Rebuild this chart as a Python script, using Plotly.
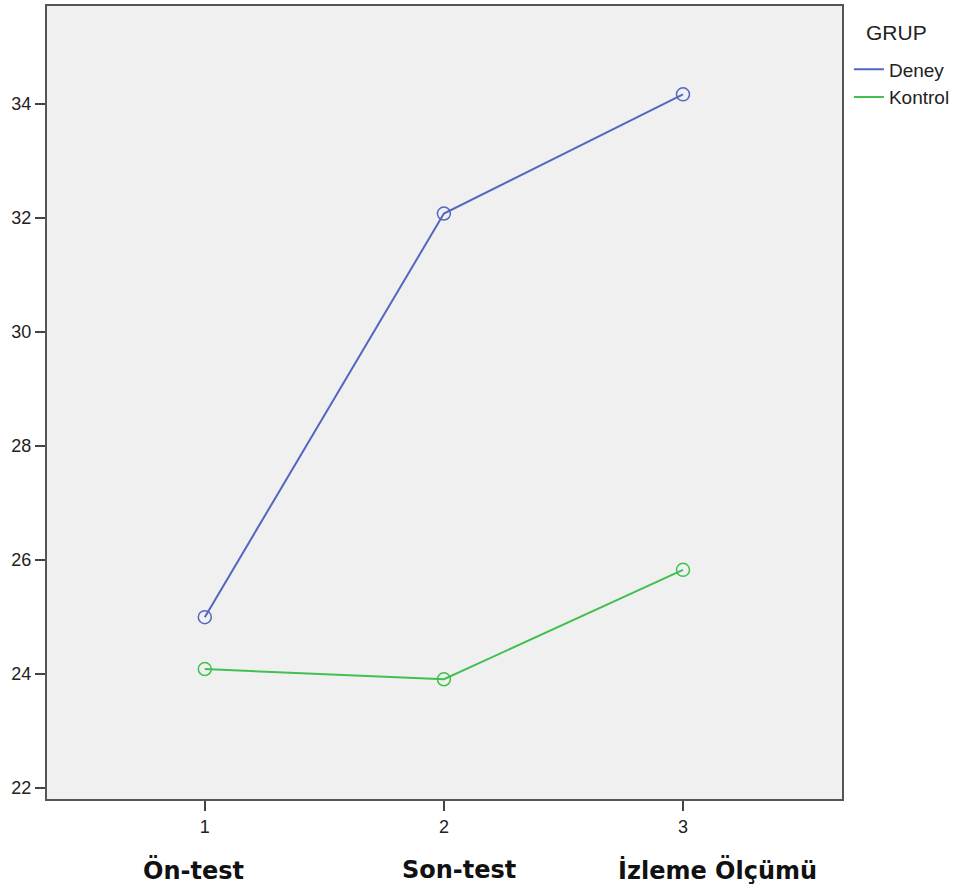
import plotly.graph_objects as go

x_vals = [1, 2, 3]
deney = [25.0, 32.08, 34.17]
kontrol = [24.09, 23.91, 25.83]
phase_labels = ["Ön-test", "Son-test", "İzleme Ölçümü"]
y_ticks = [22, 24, 26, 28, 30, 32, 34]

blue = "#5266c2"
green = "#40c04e"

fig = go.Figure()
fig.add_trace(go.Scatter(x=x_vals, y=deney, mode="lines+markers", name="Deney",
                         line=dict(color=blue, width=2),
                         marker=dict(symbol="circle-open", size=13, color=blue, line=dict(width=1.5)),
                         showlegend=False))
fig.add_trace(go.Scatter(x=x_vals, y=kontrol, mode="lines+markers", name="Kontrol",
                         line=dict(color=green, width=2),
                         marker=dict(symbol="circle-open", size=13, color=green, line=dict(width=1.5)),
                         showlegend=False))
# legend entries (line only)
fig.add_trace(go.Scatter(x=[None], y=[None], mode="lines", name="Deney",
                         line=dict(color=blue, width=2)))
fig.add_trace(go.Scatter(x=[None], y=[None], mode="lines", name="Kontrol",
                         line=dict(color=green, width=2)))

font_family = "Liberation Sans, Arial, sans-serif"

fig.update_layout(
    width=958, height=891,
    margin=dict(l=47, r=116, t=6, b=92, autoexpand=False),
    paper_bgcolor="white",
    plot_bgcolor="#f0f0f0",
    font=dict(family=font_family, size=18, color="#222"),
    xaxis=dict(range=[0.34, 3.665], tickvals=x_vals, ticktext=[str(v) for v in x_vals],
               showgrid=False, zeroline=False, ticks="outside", ticklen=10, tickwidth=2,
               tickcolor="#444", showline=True, linecolor="#555", linewidth=2, mirror=True,
               tickfont=dict(size=18), automargin=False),
    yaxis=dict(range=[21.81, 35.72], tickvals=y_ticks,
               showgrid=False, zeroline=False, ticks="outside", ticklen=10, tickwidth=2,
               tickcolor="#444", showline=True, linecolor="#555", linewidth=2, mirror=True,
               tickfont=dict(size=18), automargin=False),
    legend=dict(x=1.0087, xanchor="left", y=0.944, yanchor="top",
                font=dict(size=19), bgcolor="rgba(0,0,0,0)",
                itemwidth=30, tracegroupgap=0),
    showlegend=True,
)

fig.add_annotation(x=1.0275, xref="paper", y=0.967, yref="paper", text="GRUP",
                   showarrow=False, xanchor="left", yanchor="middle",
                   font=dict(size=21, color="#222"))

offsets = [-11, 15, 34]
for xv, lab, off in zip(x_vals, phase_labels, offsets):
    fig.add_annotation(x=xv, xref="x", y=-0.0895, yref="paper", text="<b>" + lab + "</b>",
                       showarrow=False, xshift=off,
                       font=dict(size=24, color="#111", family="DejaVu Sans, Verdana, sans-serif"),
                       xanchor="center", yanchor="middle")

fig.write_html("out.html", config={"displayModeBar": False},
               post_script="document.body.style.margin='0';")
